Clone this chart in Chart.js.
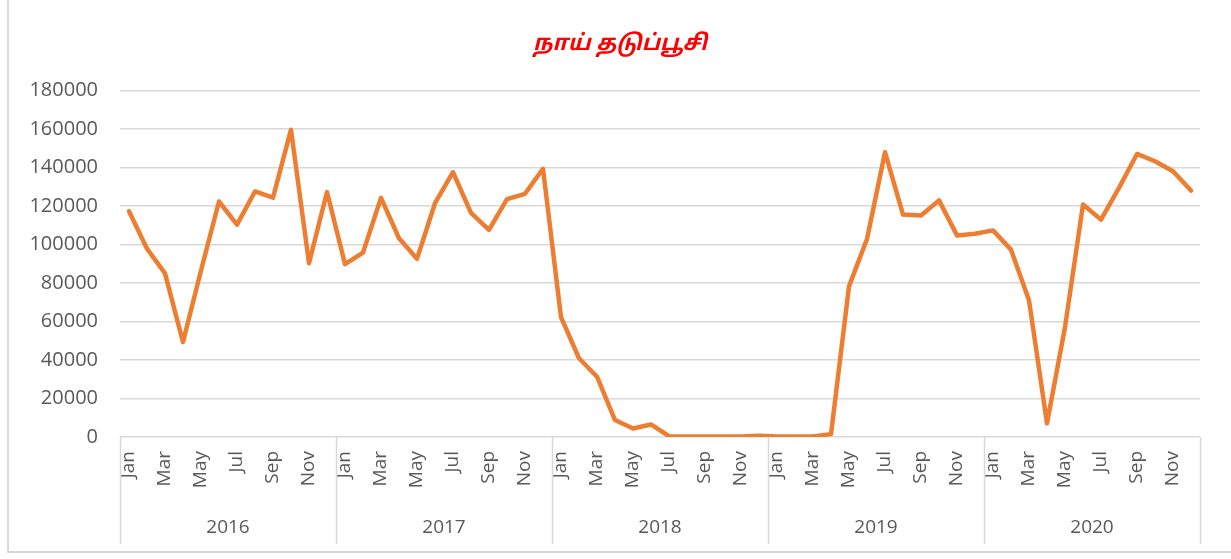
<!DOCTYPE html>
<html>
<head>
<meta charset="utf-8">
<script src="https://cdn.jsdelivr.net/npm/chart.js@4"></script>
<style>
    html, body { margin: 0; padding: 0; background: #fff; overflow: hidden; }
    #frame { position: absolute; left: 7px; top: -4px; width: 1240px; height: 557px; border: 2px solid #d9d9d9; box-sizing: border-box; }
    #wrap { position: absolute; left: 0; top: 0; width: 1231px; height: 559px; }
</style>
</head>
<body>
<div id="frame"></div>
<div id="wrap"><canvas id="chart"></canvas></div>
<script>
const years = ["2016", "2017", "2018", "2019", "2020"];
const months = ["Jan", "Feb", "Mar", "Apr", "May", "Jun", "Jul", "Aug", "Sep", "Oct", "Nov", "Dec"];

const values2016 = [117200, 97800, 85000, 49300, 86500, 122300, 110300, 127500, 124300, 159600, 90200, 127200];
const values2017 = [89800, 95800, 124200, 103200, 92600, 121400, 137500, 116400, 107600, 123500, 126300, 139300];
const values2018 = [62300, 40900, 31300, 8800, 4400, 6500, 400, 300, 300, 300, 300, 700];
const values2019 = [300, 300, 300, 1500, 78200, 102800, 147900, 115500, 115000, 122900, 104700, 105600];
const values2020 = [107300, 97300, 71000, 7100, 57000, 120700, 112900, 129400, 147000, 143200, 138000, 128000];

const yTicks = [0, 20000, 40000, 60000, 80000, 100000, 120000, 140000, 160000, 180000];
const chartTitle = "நாய் தடுப்பூசி";

document.addEventListener("DOMContentLoaded", () => {
    const labels = [];
    years.forEach(y => months.forEach(m => labels.push(m)));
    const values = [].concat(values2016, values2017, values2018, values2019, values2020);

    const textFont = "'Open Sans', 'Noto Sans', sans-serif";
    const gray = "#d9d9d9";

    // year row + separators under the month labels
    const yearGroups = {
        id: "yearGroups",
        afterLayout(chart) {
            // nudge the title a little to the right, like the original
            if (chart.titleBlock) {
                chart.titleBlock.left += 10;
                chart.titleBlock.right += 10;
            }
        },
        afterDraw(chart) {
            const { ctx, scales: { x }, chartArea } = chart;
            const step = x.getPixelForValue(1) - x.getPixelForValue(0);
            ctx.save();
            ctx.strokeStyle = gray;
            ctx.lineWidth = 1.5;
            for (let i = 0; i <= years.length; i++) {
                const px = Math.round(x.getPixelForValue(i * 12) - step / 2) + 0.5;
                ctx.beginPath();
                ctx.moveTo(px, chartArea.bottom);
                ctx.lineTo(px, 544);
                ctx.stroke();
            }
            ctx.fillStyle = "#595959";
            ctx.font = "19px " + textFont;
            ctx.textAlign = "center";
            ctx.textBaseline = "middle";
            years.forEach((yr, i) => {
                const cx = (x.getPixelForValue(i * 12) + x.getPixelForValue(i * 12 + 11)) / 2;
                ctx.fillText(yr, cx, 528);
            });
            ctx.restore();
        }
    };

    new Chart(document.getElementById("chart"), {
        type: "line",
        data: {
            labels: labels,
            datasets: [{
                label: chartTitle,
                data: values,
                borderColor: "#ED7D31",
                borderWidth: 4.5,
                borderJoinStyle: "round",
                borderCapStyle: "round",
                pointRadius: 0,
                tension: 0
            }]
        },
        options: {
            responsive: true,
            maintainAspectRatio: false,
            animation: false,
            layout: { padding: { left: 20, right: 31, top: 0, bottom: 0 } },
            plugins: {
                legend: { display: false },
                tooltip: { enabled: false },
                title: {
                    display: true,
                    text: chartTitle,
                    color: "#ff0000",
                    font: { family: "'Noto Sans Tamil', 'Noto Sans', sans-serif", size: 22, style: "italic", weight: "bold" },
                    padding: { top: 32, bottom: 32 }
                }
            },
            scales: {
                x: {
                    offset: true,
                    grid: { display: false, drawTicks: false, tickLength: 0 },
                    border: { display: false },
                    ticks: {
                        autoSkip: false,
                        maxRotation: 90,
                        minRotation: 90,
                        padding: 14,
                        color: "#595959",
                        font: { family: textFont, size: 19 },
                        callback: (val, i) => (i % 2 === 0 ? labels[i] : "")
                    },
                    afterFit: s => { s.height = 122; }
                },
                y: {
                    min: 0,
                    max: 180000,
                    afterBuildTicks: s => { s.ticks = yTicks.map(v => ({ value: v })); },
                    grid: { color: gray, lineWidth: 1.5, drawTicks: false },
                    border: { display: false },
                    ticks: {
                        padding: 22,
                        color: "#595959",
                        font: { family: textFont, size: 20 },
                        callback: v => String(v)
                    },
                    afterFit: s => { s.width = 100; }
                }
            }
        },
        plugins: [yearGroups]
    });
});
</script>
</body>
</html>
